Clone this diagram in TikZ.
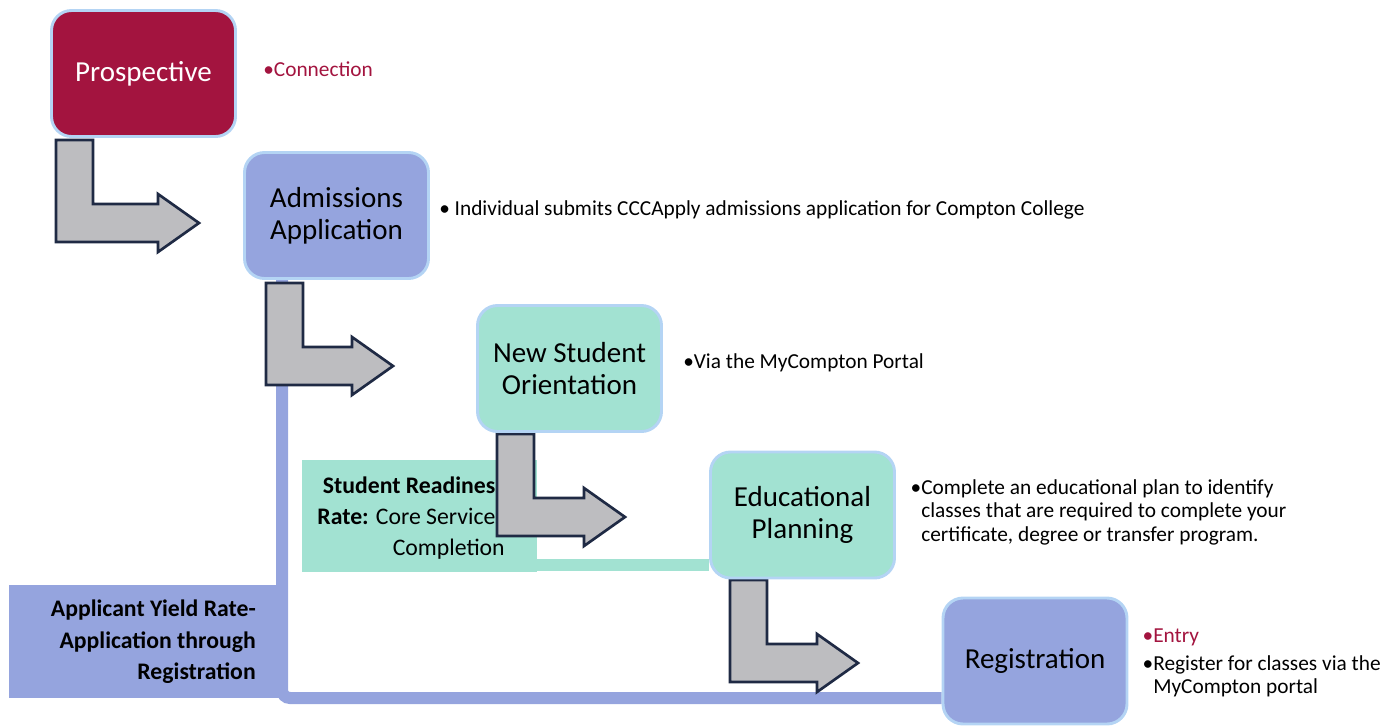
\documentclass[tikz,border=0pt]{standalone}
\usepackage{fontspec}
\setmainfont{Carlito}
\usetikzlibrary{calc,backgrounds}
\definecolor{crimson}{HTML}{A3143F}
\definecolor{stageblue}{HTML}{95A4DE}
\definecolor{stagegreen}{HTML}{A2E2D2}
\definecolor{rimblue}{HTML}{B4D4F4}
\definecolor{arrowgray}{HTML}{BDBDC0}
\definecolor{arrowrim}{HTML}{1F2A44}
\begin{document}
\begin{tikzpicture}[x=0.75pt,y=-0.75pt,
  stagebox/.style={draw=rimblue, line width=2.2pt, rounded corners=15pt,
    minimum width=138pt, minimum height=94.5pt, align=center, inner sep=0pt,
    font=\fontsize{21.75}{24}\selectfont},
  notetext/.style={anchor=west, align=left, inner sep=0pt,
    font=\fontsize{16}{17.6}\selectfont},
  metric/.style={anchor=east, align=right, inner sep=0pt,
    font=\fontsize{17.8}{23.5}\selectfont},
  arrowshape/.style={fill=arrowgray, draw=arrowrim, line width=2pt, line join=miter},
  pics/bentarrow/.style={code={
    \filldraw[arrowshape] (0,0) -- (37,0) -- (37,64) -- (#1-41,64) -- (#1-41,54)
      -- (#1,83) -- (#1-41,112) -- (#1-41,102) -- (0,102) -- cycle;}}]

\useasboundingbox (0,0) rectangle (1398,726);

% metric panels
\node[fill=stageblue, minimum width=208.5pt, minimum height=84.75pt, inner sep=0pt]
  (yield) at (148,641.5) {};
\node[metric, font=\fontsize{17.8}{23.5}\selectfont\bfseries] (yieldtext) at (256,642)
  {Applicant Yield Rate-\\Application through\\Registration};
\node[fill=stagegreen, minimum width=176.25pt, minimum height=84pt, inner sep=0pt]
  (ready) at (419.5,516) {};
\node[metric] (readytext) at (505,518)
  {\textbf{Student Readiness}\\\textbf{Rate:} Core Services\\Completion};

% bent arrows between stages
\pic (arrA) at (56,140) {bentarrow=143};
\pic (arrB) at (266,283) {bentarrow=127};
\pic (arrC) at (497,434) {bentarrow=128};
\pic (arrD) at (730,580) {bentarrow=128};

% stages
\node[stagebox, fill=crimson, text=white] (pros) at (143.5,73.5) {Prospective};
\node[stagebox, fill=stageblue] (adm) at (336.5,215.5) {Admissions\\Application};
\node[stagebox, fill=stagegreen] (nso) at (569.5,368.5) {New Student\\Orientation};
\node[stagebox, fill=stagegreen] (edu) at (802.5,515) {Educational\\Planning};
\node[stagebox, fill=stageblue] (reg) at (1035,661) {Registration};

% notes
\node[notetext, text=crimson] (prosnote) at (263,69) {•Connection};
\node[notetext] (admnote) at (439,210)
  {• Individual submits CCCApply admissions application for Compton College};
\node[notetext] (nsonote) at (683,363) {•Via the MyCompton Portal};
\node[notetext] (edunote) at (921,512)
  {\llap{•}Complete an educational plan to identify\\
   classes that are required to complete your\\
   certificate, degree or transfer program.};
\node[notetext] (regnote) at (1153,663)
  {\llap{\textcolor{crimson}{•}}\textcolor{crimson}{Entry}\\[3.5pt]
   \llap{•}Register for classes via the\\
   MyCompton portal};

% connectors behind everything
\coordinate (yieldbend) at (282,698);
\coordinate (readyline) at (540,565);
\begin{scope}[on background layer]
  \draw[stageblue, line width=9pt, rounded corners=6pt]
    (adm.south -| yieldbend) -- (yieldbend) -- (reg.west |- yieldbend);
  \draw[stagegreen, line width=9pt] (ready.east |- readyline) -- (edu.west |- readyline);
\end{scope}
\end{tikzpicture}
\end{document}
